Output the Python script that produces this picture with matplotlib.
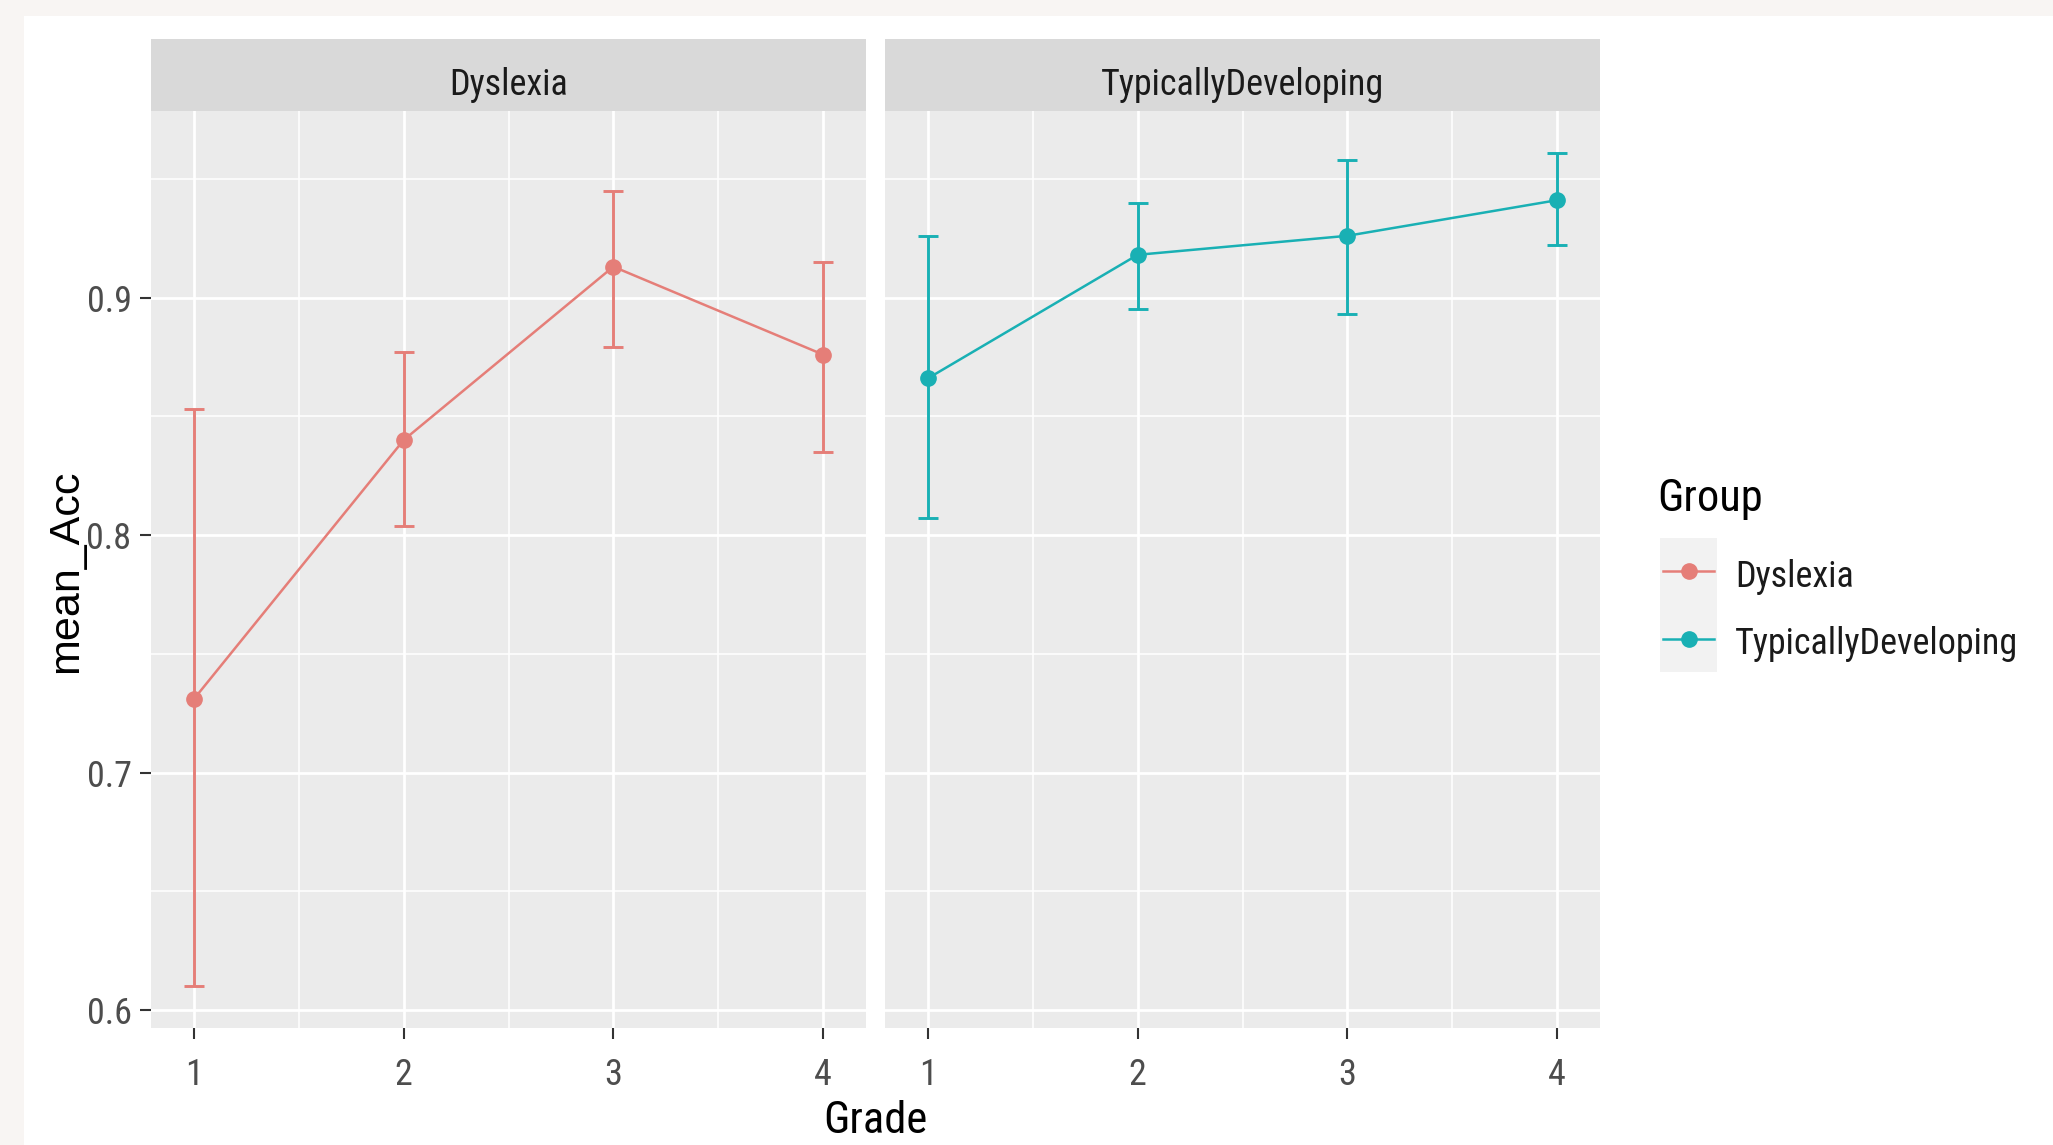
import numpy as np
import matplotlib
matplotlib.use("Agg")
import matplotlib.pyplot as plt
from matplotlib.patches import Rectangle
from matplotlib.lines import Line2D

# data
grades = [1, 2, 3, 4]
groups = ["Dyslexia", "TypicallyDeveloping"]
dys_mean = [0.731, 0.840, 0.913, 0.876]
dys_low = [0.610, 0.804, 0.879, 0.835]
dys_high = [0.853, 0.877, 0.945, 0.915]
td_mean = [0.866, 0.918, 0.926, 0.941]
td_low = [0.807, 0.895, 0.893, 0.922]
td_high = [0.926, 0.940, 0.958, 0.961]
colors = ["#E57E78", "#19B0B4"]

plt.rcParams['font.family'] = ['Roboto Condensed', 'Liberation Sans', 'DejaVu Sans']

W, H = 2053, 1145
fig = plt.figure(figsize=(W / 100, H / 100), dpi=100, facecolor='#f8f5f3')


def px(x, y):
    # top-left pixel coords -> figure fraction
    return x / W, 1 - y / H


# white plot area inside the light frame
fig.patches.append(Rectangle(px(24, H), (W - 24) / W, (H - 16) / H,
                             transform=fig.transFigure, facecolor='white',
                             edgecolor='none', zorder=-5))

tick_fs = 26
title_fs = 32
bar_w = 0.1

means = [dys_mean, td_mean]
lows = [dys_low, td_low]
highs = [dys_high, td_high]

# shared limits, ggplot style 5% expansion
xlo, xhi = min(grades) - bar_w / 2, max(grades) + bar_w / 2
xpad = 0.05 * (xhi - xlo)
ylo = min(min(dys_low), min(td_low))
yhi = max(max(dys_high), max(td_high))
ypad = 0.05 * (yhi - ylo)

panel_left = [151, 885]
panel_w = 715
top, bottom = 111, 1028
strip_top = 39

for i, g in enumerate(groups):
    x0, y0 = px(panel_left[i], bottom)
    ax = fig.add_axes([x0, y0, panel_w / W, (bottom - top) / H])
    ax.set_facecolor('#EBEBEB')
    for s in ax.spines.values():
        s.set_visible(False)
    ax.set_xlim(xlo - xpad, xhi + xpad)
    ax.set_ylim(ylo - ypad, yhi + ypad)
    ax.set_xticks(grades)
    ax.set_xticks([1.5, 2.5, 3.5], minor=True)
    ax.set_yticks([0.6, 0.7, 0.8, 0.9])
    ax.set_yticks([0.65, 0.75, 0.85, 0.95], minor=True)
    ax.grid(which='major', color='white', linewidth=2.0)
    ax.grid(which='minor', color='white', linewidth=1.1)
    ax.set_axisbelow(True)
    ax.tick_params(which='minor', length=0)
    ax.tick_params(which='major', length=8, width=1.5, color='#333333',
                   labelsize=tick_fs, labelcolor='#4D4D4D')
    ax.tick_params(axis='x', pad=13)
    ax.tick_params(axis='y', pad=6)
    if i == 0:
        ax.set_yticklabels(['0.6', '0.7', '0.8', '0.9'])
    else:
        ax.tick_params(axis='y', left=False, labelleft=False)

    m = np.array(means[i])
    err = [m - np.array(lows[i]), np.array(highs[i]) - m]
    ax.errorbar(grades, m, yerr=err, fmt='none', ecolor=colors[i],
                elinewidth=2.1, capsize=7.5, capthick=2.1, zorder=3)
    ax.plot(grades, m, color=colors[i], linewidth=1.8, zorder=4)
    ax.plot(grades, m, 'o', color=colors[i], markersize=11, zorder=5)

    # facet strip
    sx, sy = px(panel_left[i], top)
    sax = fig.add_axes([sx, sy, panel_w / W, (top - strip_top) / H])
    sax.set_facecolor('#D9D9D9')
    sax.set_xticks([])
    sax.set_yticks([])
    for s in sax.spines.values():
        s.set_visible(False)
    sax.text(0.5, 0.36, g, ha='center', va='center', fontsize=tick_fs,
             color='#1A1A1A', transform=sax.transAxes)

fig.text(*px(875, 1121), 'Grade', ha='center', va='center', fontsize=title_fs)
fig.text(*px(66, 571), 'mean_Acc', ha='center', va='center', rotation=90,
         fontsize=31, family='Liberation Sans')

# legend
fig.text(*px(1657, 499), 'Group', ha='left', va='center', fontsize=title_fs)
key_top = [538, 605]
for i, g in enumerate(groups):
    kx, ky = px(1660, key_top[i] + 67)
    fig.patches.append(Rectangle((kx, ky), 57 / W, 67 / H, transform=fig.transFigure,
                                 facecolor='#F2F2F2', edgecolor='none', zorder=-1))
    cy = key_top[i] + 33.5
    xa, ya = px(1663, cy)
    xb, _ = px(1714, cy)
    xc, _ = px(1688.5, cy)
    fig.lines.append(Line2D([xa, xb], [ya, ya], transform=fig.transFigure,
                            color=colors[i], linewidth=1.8))
    fig.lines.append(Line2D([xc], [ya], transform=fig.transFigure, marker='o',
                            color=colors[i], markersize=11))
    fig.text(*px(1735, cy + 5), g, ha='left', va='center', fontsize=tick_fs,
             color='#1A1A1A')

fig.savefig('out.png', dpi=100, facecolor=fig.get_facecolor())
